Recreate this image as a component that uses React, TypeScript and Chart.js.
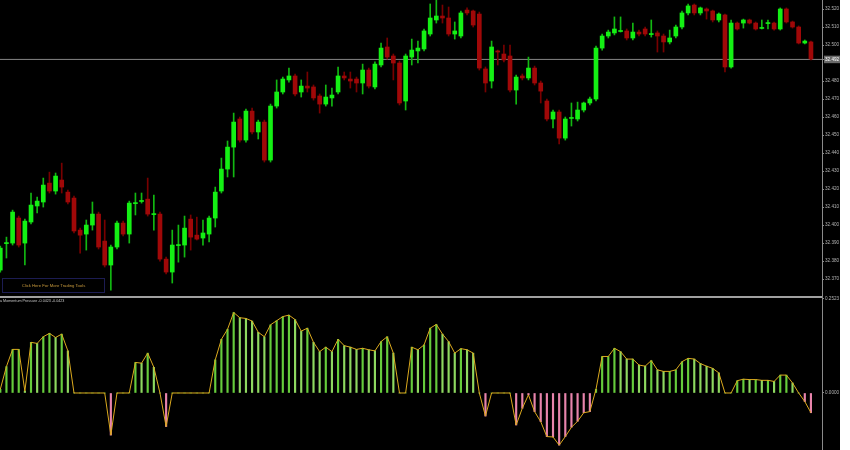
import React, { useEffect, useRef } from "react";
import { Chart, registerables } from "chart.js";

Chart.register(...registerables);

// ---- Data (133 candles) ----
const OPEN = [
  32.375, 32.3897, 32.39, 32.4039, 32.39, 32.4017, 32.4106, 32.4128, 32.4233, 32.4189,
  32.425, 32.4183, 32.415, 32.3972, 32.395, 32.4, 32.4061, 32.3911, 32.3778, 32.3878,
  32.4011, 32.395, 32.4119, 32.4131, 32.4144, 32.4058, 32.4061, 32.3811, 32.3739, 32.3886,
  32.3889, 32.4033, 32.3944, 32.3928, 32.395, 32.4039, 32.4189, 32.4311, 32.4433, 32.4589,
  32.4472, 32.4633, 32.4517, 32.4572, 32.4361, 32.4661, 32.4739, 32.4806, 32.4828, 32.4739,
  32.4772, 32.4767, 32.4717, 32.4672, 32.4706, 32.4739, 32.4828, 32.4811, 32.4811, 32.4789,
  32.4861, 32.4767, 32.4889, 32.4989, 32.4939, 32.49, 32.4689, 32.4933, 32.4967, 32.4978,
  32.5061, 32.5139, 32.5161, 32.515, 32.5061, 32.505, 32.5194, 32.5189, 32.5172, 32.4867,
  32.48, 32.4967, 32.495, 32.4939, 32.475, 32.4828, 32.4817, 32.4872, 32.4789, 32.4689,
  32.4589, 32.4628, 32.4483, 32.4592, 32.4589, 32.4639, 32.4678, 32.47, 32.4983, 32.505,
  32.5067, 32.5075, 32.5078, 32.5039, 32.5072, 32.5089, 32.5058, 32.5067, 32.505, 32.5017,
  32.505, 32.51, 32.5178, 32.5222, 32.5178, 32.52, 32.5189, 32.5139, 32.5167, 32.4878,
  32.5122, 32.5122, 32.5139, 32.5122, 32.5092, 32.5119, 32.5122, 32.5089, 32.52, 32.5128,
  32.51, 32.5011, 32.5017,
];
const HIGH = [
  32.3883, 32.3933, 32.4083, 32.405, 32.4033, 32.4178, 32.4156, 32.4261, 32.4294, 32.4289,
  32.4344, 32.4194, 32.4161, 32.3983, 32.4028, 32.4128, 32.4072, 32.4028, 32.3889, 32.4022,
  32.4022, 32.4133, 32.4178, 32.4178, 32.4261, 32.4167, 32.4072, 32.3822, 32.3972, 32.4,
  32.405, 32.4056, 32.4044, 32.4028, 32.405, 32.4211, 32.4372, 32.4467, 32.4622, 32.46,
  32.4644, 32.465, 32.4583, 32.4583, 32.4672, 32.4806, 32.4822, 32.4872, 32.4839, 32.4806,
  32.485, 32.4778, 32.4728, 32.4778, 32.4761, 32.4878, 32.485, 32.485, 32.4822, 32.4894,
  32.4872, 32.4906, 32.5011, 32.5039, 32.495, 32.4911, 32.495, 32.5033, 32.5022, 32.5089,
  32.5228, 32.525, 32.5222, 32.5211, 32.5128, 32.5189, 32.5206, 32.5194, 32.5183, 32.4878,
  32.5022, 32.4972, 32.5, 32.5, 32.4833, 32.4839, 32.4933, 32.4883, 32.48, 32.47,
  32.4639, 32.4639, 32.46, 32.4678, 32.4683, 32.4683, 32.4711, 32.4994, 32.5061, 32.5083,
  32.5156, 32.5156, 32.5089, 32.5122, 32.5083, 32.51, 32.5139, 32.5078, 32.5061, 32.5083,
  32.5111, 32.5189, 32.5228, 32.5228, 32.5211, 32.5206, 32.5194, 32.5178, 32.5172, 32.5139,
  32.5128, 32.5144, 32.5144, 32.5128, 32.5139, 32.5139, 32.5128, 32.5206, 32.5206, 32.5133,
  32.5106, 32.5028, 32.5022,
];
const LOW = [
  32.3739, 32.3817, 32.3889, 32.3878, 32.3778, 32.4006, 32.4067, 32.41, 32.4178, 32.4172,
  32.4178, 32.4117, 32.3956, 32.3844, 32.3861, 32.3972, 32.3867, 32.3767, 32.3639, 32.3867,
  32.3939, 32.39, 32.4056, 32.4122, 32.405, 32.3972, 32.38, 32.3728, 32.3678, 32.3794,
  32.3822, 32.3861, 32.3917, 32.3889, 32.3906, 32.3989, 32.4178, 32.4267, 32.4267, 32.4461,
  32.4461, 32.4506, 32.4478, 32.435, 32.435, 32.465, 32.4728, 32.4794, 32.4717, 32.4711,
  32.4739, 32.4694, 32.4622, 32.4661, 32.4661, 32.4728, 32.4806, 32.4761, 32.4739, 32.4728,
  32.4761, 32.4756, 32.4878, 32.4922, 32.4806, 32.4667, 32.4639, 32.4889, 32.49, 32.4967,
  32.505, 32.5122, 32.5122, 32.505, 32.5033, 32.5039, 32.5167, 32.51, 32.4861, 32.4739,
  32.4761, 32.4889, 32.4906, 32.4739, 32.4672, 32.4806, 32.4806, 32.4778, 32.4678, 32.4578,
  32.4539, 32.445, 32.4472, 32.455, 32.4578, 32.4628, 32.4667, 32.4689, 32.4972, 32.5039,
  32.5056, 32.5072, 32.5028, 32.5028, 32.505, 32.505, 32.5044, 32.4961, 32.4961, 32.5006,
  32.5039, 32.5089, 32.5167, 32.5167, 32.5167, 32.5144, 32.5128, 32.5128, 32.485, 32.4872,
  32.5083, 32.5094, 32.5117, 32.5083, 32.5089, 32.5089, 32.5083, 32.5083, 32.5122, 32.5094,
  32.5006, 32.5006, 32.4917,
];
const CLOSE = [
  32.3872, 32.39, 32.4072, 32.3889, 32.4022, 32.4111, 32.4133, 32.4222, 32.4189, 32.4272,
  32.4211, 32.4128, 32.3967, 32.3944, 32.4, 32.4061, 32.3878, 32.3778, 32.3878, 32.4011,
  32.395, 32.4122, 32.4122, 32.4133, 32.4061, 32.4061, 32.3811, 32.3739, 32.3889, 32.3889,
  32.3983, 32.3933, 32.3922, 32.3956, 32.4039, 32.4183, 32.4311, 32.4433, 32.4572, 32.4472,
  32.4633, 32.4517, 32.4572, 32.4361, 32.4661, 32.4739, 32.4811, 32.4828, 32.4728, 32.4772,
  32.4761, 32.4706, 32.4672, 32.4711, 32.4722, 32.4828, 32.4817, 32.48, 32.4789, 32.4861,
  32.4772, 32.4894, 32.4983, 32.4933, 32.49, 32.4678, 32.4939, 32.4972, 32.4983, 32.5078,
  32.515, 32.5161, 32.515, 32.5061, 32.5078, 32.5178, 32.5178, 32.5111, 32.4872, 32.4789,
  32.4989, 32.4961, 32.4917, 32.475, 32.4822, 32.4817, 32.4872, 32.4789, 32.4744, 32.4589,
  32.4628, 32.4483, 32.4589, 32.4594, 32.4639, 32.4678, 32.47, 32.4983, 32.505, 32.5072,
  32.5089, 32.5078, 32.5039, 32.5072, 32.5061, 32.5061, 32.5061, 32.505, 32.5017, 32.5039,
  32.51, 32.5178, 32.5217, 32.5178, 32.5206, 32.5189, 32.5139, 32.5172, 32.4878, 32.5122,
  32.5089, 32.5139, 32.5122, 32.5089, 32.5094, 32.5122, 32.5089, 32.52, 32.5128, 32.51,
  32.5011, 32.5022, 32.4922,
];
const MOMENTUM = [
  0.01, 0.071, 0.117, 0.117, 0.005, 0.136, 0.133, 0.151, 0.16, 0.149,
  0.158, 0.113, 0, 0, 0, 0, 0, 0, -0.113, 0,
  0, 0, 0.082, 0.08, 0.107, 0.069, 0, -0.09, 0, 0,
  0, 0, 0, 0, 0, 0.089, 0.144, 0.171, 0.216, 0.202,
  0.2, 0.193, 0.163, 0.151, 0.183, 0.194, 0.205, 0.209, 0.197, 0.166,
  0.174, 0.136, 0.111, 0.123, 0.111, 0.144, 0.127, 0.123, 0.117, 0.12,
  0.116, 0.113, 0.138, 0.151, 0.107, 0, 0, 0.123, 0.116, 0.129,
  0.174, 0.184, 0.158, 0.138, 0.107, 0.119, 0.116, 0.107, 0, -0.062,
  0, 0, 0, 0, -0.086, -0.041, -0.005, -0.05, -0.077, -0.117,
  -0.118, -0.14, -0.117, -0.092, -0.076, -0.053, -0.05, 0.01, 0.098, 0.098,
  0.12, 0.111, 0.091, 0.091, 0.075, 0.072, 0.087, 0.062, 0.058, 0.058,
  0.062, 0.084, 0.093, 0.091, 0.079, 0.072, 0.066, 0.054, 0, 0,
  0.033, 0.037, 0.036, 0.036, 0.034, 0.034, 0.031, 0.048, 0.048, 0.027,
  0, -0.023, -0.053,
];
const PRICE_TICKS = [
  32.52, 32.51, 32.5, 32.48, 32.47, 32.46, 32.45, 32.44, 32.43, 32.42, 32.41, 32.4, 32.39, 32.38, 32.37,
];
const CURRENT_PRICE = 32.492;
const MOMENTUM_TICKS = [0.2523, 0];
const INDICATOR_TITLE = "a Momentum Pressure -0.0423 -0.0423";
const BUTTON_TEXT = "Click Here For More Trading Tools";

const FONT = "'Liberation Sans', 'DejaVu Sans', sans-serif";
const AXIS_COLOR = "#8a8a8a";
const LABEL_COLOR = "#b4b4b4";
const X_MIN = -0.05;
const X_MAX = 133.8;

export default function App() {
  const topRef = useRef<HTMLCanvasElement | null>(null);
  const botRef = useRef<HTMLCanvasElement | null>(null);

  useEffect(() => {
    const idx = OPEN.map((_, i) => i);
    const up = idx.map((i) => CLOSE[i] >= OPEN[i]);

    const yAxisCommon = (ticks: number[], digits: number) => ({
      position: "right" as const,
      afterFit: (s: any) => {
        s.width = 18;
        s.paddingTop = 0;
        s.paddingBottom = 0;
      },
      afterBuildTicks: (s: any) => {
        s.ticks = ticks.map((value) => ({ value }));
      },
      border: { display: true, color: AXIS_COLOR, width: 1 },
      grid: {
        display: true,
        drawOnChartArea: false,
        drawTicks: true,
        tickLength: 2,
        color: AXIS_COLOR,
      },
      ticks: {
        autoSkip: false,
        padding: 1,
        font: { size: 4.6, family: FONT },
        color: (ctx: any) =>
          ctx.tick && ctx.tick.value === CURRENT_PRICE ? "#ffffff" : LABEL_COLOR,
        callback: (v: any) => Number(v).toFixed(digits),
        showLabelBackdrop: (ctx: any) => !!(ctx.tick && ctx.tick.value === CURRENT_PRICE),
        backdropColor: "#6a6a6a",
        backdropPadding: { left: 1, right: 2, top: 1, bottom: 1 },
      },
    });

    const top = new Chart(topRef.current as HTMLCanvasElement, {
      type: "bar",
      data: {
        datasets: [
          {
            type: "bar",
            data: idx.map((i) => ({ x: i, y: [OPEN[i], CLOSE[i]] })),
            backgroundColor: idx.map((i) => (up[i] ? "#14f014" : "#a00808")),
            borderWidth: 0,
            barThickness: 4,
            minBarLength: 1,
            grouped: false,
            order: 0,
          } as any,
          {
            type: "bar",
            data: idx.map((i) => ({ x: i, y: [LOW[i], HIGH[i]] })),
            backgroundColor: idx.map((i) => (up[i] ? "#12b812" : "#780000")),
            borderWidth: 0,
            barThickness: 1,
            grouped: false,
            order: 1,
          } as any,
          {
            type: "line",
            data: [
              { x: X_MIN, y: CURRENT_PRICE },
              { x: X_MAX, y: CURRENT_PRICE },
            ],
            borderColor: "#858585",
            borderWidth: 1,
            pointRadius: 0,
            order: 2,
          } as any,
        ],
      },
      options: {
        animation: false,
        responsive: false,
        maintainAspectRatio: false,
        layout: { padding: 0 },
        plugins: { legend: { display: false }, tooltip: { enabled: false } },
        scales: {
          x: { type: "linear", min: X_MIN, max: X_MAX, offset: false, display: false },
          y: {
            ...yAxisCommon([...PRICE_TICKS, CURRENT_PRICE], 3),
            min: 32.3606,
            max: 32.525,
          },
        } as any,
      },
    });

    const barColors = MOMENTUM.map((v, i) => {
      if (v < 0) return "#e884ac";
      const prev = i > 0 ? MOMENTUM[i - 1] : 0;
      return v >= prev ? "#66cc3c" : "#8ed860";
    });

    const bot = new Chart(botRef.current as HTMLCanvasElement, {
      type: "bar",
      data: {
        datasets: [
          {
            type: "line",
            data: idx.map((i) => ({ x: i, y: MOMENTUM[i] })),
            borderColor: "#dcaa1e",
            borderWidth: 1,
            pointRadius: 0,
            tension: 0,
            order: 0,
          } as any,
          {
            type: "bar",
            data: idx.map((i) => ({ x: i, y: MOMENTUM[i] })),
            backgroundColor: barColors,
            borderWidth: 0,
            barThickness: 1.5,
            grouped: false,
            order: 1,
          } as any,
        ],
      },
      options: {
        animation: false,
        responsive: false,
        maintainAspectRatio: false,
        layout: { padding: 0 },
        plugins: { legend: { display: false }, tooltip: { enabled: false } },
        scales: {
          x: { type: "linear", min: X_MIN, max: X_MAX, offset: false, display: false },
          y: {
            ...yAxisCommon(MOMENTUM_TICKS, 4),
            min: -0.153,
            max: 0.2603,
          },
        } as any,
      },
    });

    return () => {
      top.destroy();
      bot.destroy();
    };
  }, []);

  return (
    <div
      style={{
        position: "fixed",
        left: 0,
        top: 0,
        width: 840,
        height: 450,
        background: "#000000",
        overflow: "hidden",
      }}
    >
      <canvas
        ref={topRef}
        width={840}
        height={296}
        style={{ position: "absolute", left: 0, top: 0 }}
      />
      <canvas
        ref={botRef}
        width={840}
        height={154}
        style={{ position: "absolute", left: 0, top: 296 }}
      />
      <div
        style={{
          position: "absolute",
          left: 0,
          top: 296,
          width: 822,
          height: 2,
          background: "#a0a0a0",
        }}
      />
      <div
        style={{
          position: "absolute",
          left: 0,
          top: 299,
          fontFamily: FONT,
          fontSize: 3.7,
          lineHeight: "5px",
          color: "#c4c4c4",
          whiteSpace: "nowrap",
        }}
      >
        {INDICATOR_TITLE}
      </div>
      <div
        style={{
          position: "absolute",
          left: 2,
          top: 278,
          width: 101,
          height: 13,
          border: "1px solid #1c1c52",
          background: "#000000",
          color: "#c89a3c",
          fontFamily: FONT,
          fontSize: 4.2,
          lineHeight: "13px",
          textAlign: "center",
          whiteSpace: "nowrap",
        }}
      >
        {BUTTON_TEXT}
      </div>
    </div>
  );
}
